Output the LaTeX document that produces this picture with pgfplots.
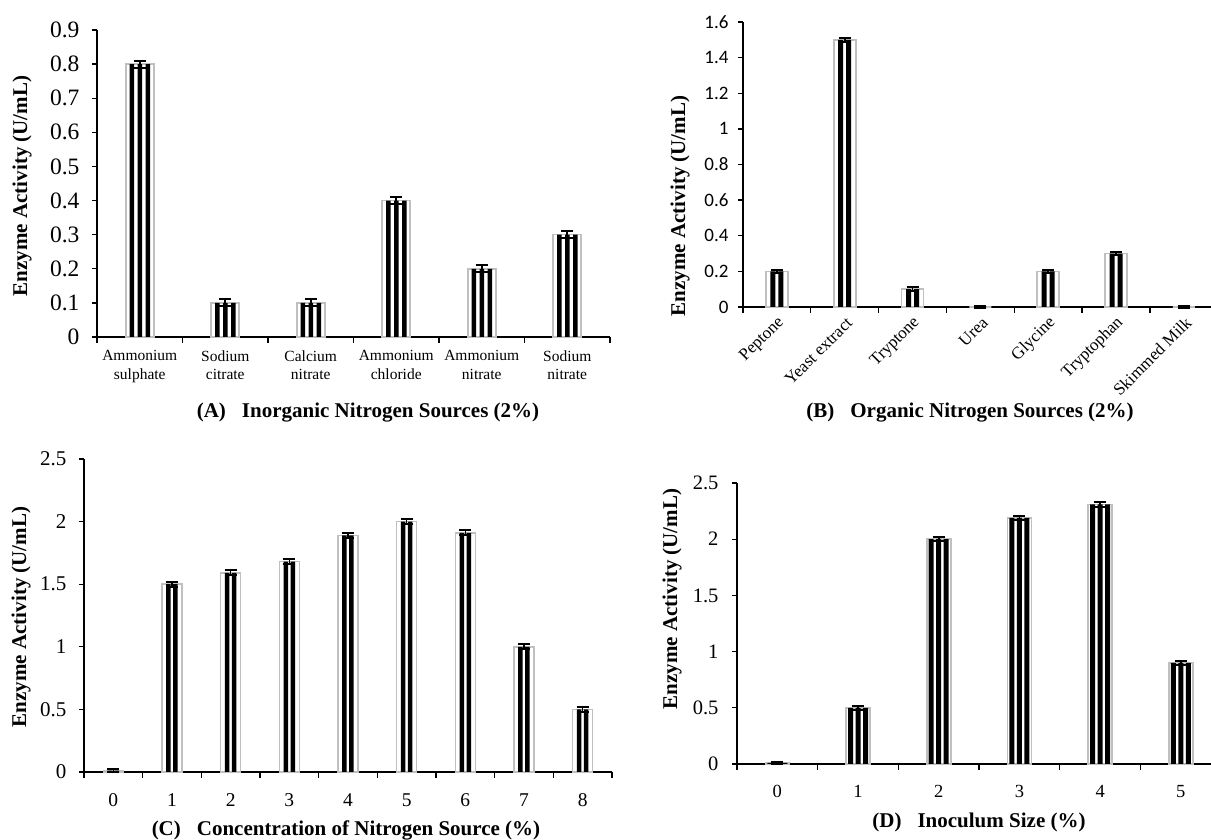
\documentclass[border=0pt]{standalone}
\usepackage{fontspec}
\setmainfont{Liberation Serif}
\newfontfamily\calibri{Carlito}
\usepackage{pgfplots}
\pgfplotsset{compat=1.18}
\usepackage{pgfplotstable}

\newcommand\fs[1]{\fontsize{#1}{#1}\selectfont}
\definecolor{barrim}{RGB}{192,192,192}

% x = category index, y = enzyme activity (U/mL), e = error
\pgfplotstableread{
x y e
0 0.80 0.01
1 0.10 0.01
2 0.10 0.01
3 0.40 0.01
4 0.20 0.01
5 0.30 0.01
}\inorganic

\pgfplotstableread{
x y e
0 0.20 0.01
1 1.50 0.01
2 0.10 0.01
3 0.00 0.005
4 0.20 0.01
5 0.30 0.01
6 0.00 0.005
}\organic

\pgfplotstableread{
x y e
0 0.01 0.01
1 1.50 0.02
2 1.59 0.02
3 1.68 0.02
4 1.89 0.02
5 2.00 0.02
6 1.91 0.02
7 1.00 0.02
8 0.50 0.02
}\concentration

\pgfplotstableread{
x y e
0 0.01 0.01
1 0.50 0.02
2 2.00 0.02
3 2.19 0.02
4 2.31 0.02
5 0.90 0.02
}\inoculum

\pgfplotsset{
  panel/.style={
    scale only axis, anchor=south west, clip=false,
    axis x line*=bottom, axis y line*=left,
    axis line style={black, line width=1.3pt, -},
    tick align=outside,
    tick style={black, line width=1.3pt},
    major tick length=5pt, minor tick length=6pt,
    major x tick style={draw=none},
    ymin=0,
    /pgf/number format/assume math mode=true,
  },
  % white bar with grey rim
  rim/.style={ybar, bar width=#1, bar shift=0pt, fill=white, draw=barrim, line width=1.6pt},
  % black stripe inside a bar
  stripe/.style 2 args={ybar, bar width=#1, bar shift=#2, fill=black, draw=none},
  errs/.style={draw=none, mark=none,
    error bars/.cd, y dir=both, y explicit,
    error bar style={draw=black, line width=1.6pt, solid},
    error mark options={draw=black, line width=2pt, mark size=6pt, rotate=90}},
}

\begin{document}
\begin{tikzpicture}
\path[use as bounding box] (0pt,0pt) rectangle (1211pt,840pt);

% ---------------- (A) ----------------
\begin{axis}[panel,
  at={(97pt,503pt)}, width=513pt, height=307pt,
  xmin=-0.5, xmax=5.5, ymax=0.9,
  xtick={0,...,5},
  minor xtick={-0.5,0.5,...,5.5},
  xticklabels={{Ammonium\\sulphate},{Sodium\\citrate},{Calcium\\nitrate},
               {Ammonium\\chloride},{Ammonium\\nitrate},{Sodium\\nitrate}},
  xticklabel style={align=center, font=\fontsize{15.5}{18.5}\selectfont, yshift=-5pt},
  ytick={0,0.1,0.2,0.3,0.4,0.5,0.6,0.7,0.8,0.9},
  yticklabel style={font=\fs{23.5}, xshift=-9pt},
  yticklabel={\pgfmathprintnumber[fixed,precision=1]{\tick}},
]
\addplot[rim=28pt] table[x=x,y=y]{\inorganic};
\pgfplotsinvokeforeach{-8,0,8}{
  \addplot[stripe={4.5pt}{#1pt}] table[x=x,y=y]{\inorganic};
}
\addplot[errs] table[x=x,y=y,y error=e]{\inorganic};
\end{axis}
\node[font=\bfseries\fs{21}, rotate=90] at (22pt,654pt) {Enzyme Activity (U/mL)};
\node[font=\bfseries\fs{21}] at (368pt,427pt) {(A)\hspace{16pt}Inorganic Nitrogen Sources (2\%)};

% ---------------- (B) ----------------
\begin{axis}[panel,
  at={(743pt,533pt)}, width=468pt, height=285pt,
  xmin=-0.5, xmax=6.40, ymax=1.6,
  xtick={0,...,6},
  minor xtick={-0.5,0.5,...,6.5},
  xticklabels={Peptone,Yeast extract,Tryptone,Urea,Glycine,Tryptophan,Skimmed Milk},
  xticklabel style={font=\fs{17}, rotate=45, anchor=east, xshift=1pt, yshift=-9pt},
  ytick={0,0.2,0.4,0.6,0.8,1,1.2,1.4,1.6},
  yticklabel style={font=\calibri\fs{19}, xshift=-6pt},
]
\addplot[rim=22pt] table[x=x,y=y]{\organic};
\pgfplotsinvokeforeach{-4,4}{
  \addplot[stripe={5pt}{#1pt}] table[x=x,y=y]{\organic};
}
\addplot[errs] table[x=x,y=y,y error=e]{\organic};
\end{axis}
\node[font=\bfseries\fs{21}, rotate=90] at (680pt,634pt) {Enzyme Activity (U/mL)};
\node[font=\bfseries\fs{21}] at (970pt,427pt) {(B)\hspace{16pt}Organic Nitrogen Sources (2\%)};

% ---------------- (C) ----------------
\begin{axis}[panel,
  at={(84pt,68pt)}, width=528pt, height=313pt,
  xmin=-0.5, xmax=8.5, ymax=2.5,
  xtick={0,...,8},
  minor xtick={-0.5,0.5,...,8.5},
  xticklabel style={font=\fs{19.5}, yshift=-13pt},
  ytick={0,0.5,1,1.5,2,2.5},
  yticklabel style={font=\fs{21}, xshift=-9pt},
]
\addplot[rim=20pt] table[x=x,y=y]{\concentration};
\pgfplotsinvokeforeach{-3.5,3.5}{
  \addplot[stripe={4.5pt}{#1pt}] table[x=x,y=y]{\concentration};
}
\addplot[errs] table[x=x,y=y,y error=e]{\concentration};
\end{axis}
\node[font=\bfseries\fs{21}, rotate=90] at (21pt,223pt) {Enzyme Activity (U/mL)};
\node[font=\bfseries\fs{21}] at (346pt,10pt) {(C)\hspace{16pt}Concentration of Nitrogen Source (\%)};

% ---------------- (D) ----------------
\begin{axis}[panel,
  at={(737pt,76pt)}, width=474pt, height=281pt,
  xmin=-0.5, xmax=5.374, ymax=2.5,
  xtick={0,...,5},
  minor xtick={-0.5,0.5,...,5.5},
  xticklabel style={font=\fs{18.5}, yshift=-13pt},
  ytick={0,0.5,1,1.5,2,2.5},
  yticklabel style={font=\fs{20.5}, xshift=-10pt},
]
\addplot[rim=24pt] table[x=x,y=y]{\inoculum};
\pgfplotsinvokeforeach{-7.5,0,7.5}{
  \addplot[stripe={5pt}{#1pt}] table[x=x,y=y]{\inoculum};
}
\addplot[errs] table[x=x,y=y,y error=e]{\inoculum};
\end{axis}
\node[font=\bfseries\fs{21}, rotate=90] at (672pt,241pt) {Enzyme Activity (U/mL)};
\node[font=\bfseries\fs{21}] at (979pt,18pt) {(D)\hspace{16pt}Inoculum Size (\%)};
\end{tikzpicture}
\end{document}
